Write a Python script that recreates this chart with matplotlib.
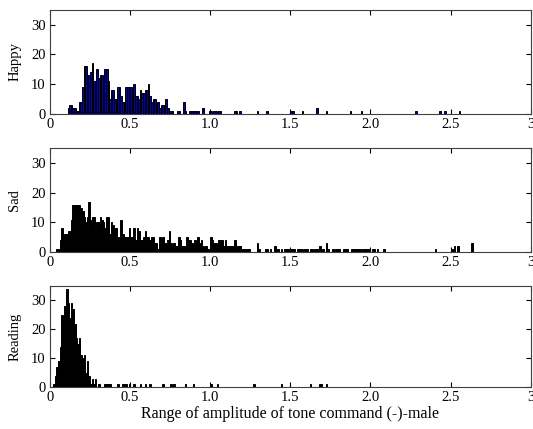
import matplotlib
matplotlib.use("Agg")
import matplotlib.pyplot as plt
import numpy as np

plt.rcParams["font.family"] = ["Liberation Serif", "DejaVu Serif"]

BIN = 0.01

# Happy: dense counts from 0.11 (bin width 0.01), then sparse tail
happy_start = 0.11
happy_dense = [2, 3, 3, 2, 2, 1, 1, 4, 4, 9,
               16, 16, 13, 13, 14, 17, 11, 11, 15, 12,
               13, 13, 9, 15, 15, 11, 5, 8, 8, 5,
               5, 9, 9, 6, 4, 4, 9, 9, 9, 9,
               4, 10, 6, 6, 5, 8, 7, 7, 8, 8,
               10, 6, 4, 5, 5, 4, 4, 2, 3, 3,
               3, 5, 2, 0, 1, 1, 0, 0, 1, 1,
               0, 0, 4, 1, 0, 0, 1, 1]
happy_tail_x = [0.89, 0.90, 0.91, 0.92, 0.95, 0.99, 1.00, 1.02, 1.03, 1.05,
                1.06, 1.15, 1.16, 1.18, 1.29, 1.35, 1.50, 1.51, 1.57, 1.66,
                1.72, 1.87, 1.94, 2.28, 2.43, 2.46, 2.55]
happy_tail_n = [1, 1, 1, 1, 2, 1, 1, 1, 1, 1,
                1, 1, 1, 1, 1, 1, 1, 1, 1, 2,
                1, 1, 1, 1, 1, 1, 1]

# Sad
sad_start = 0.04
sad_dense = [1, 1, 4, 8, 4, 6, 6, 7, 7, 11,
             16, 16, 16, 16, 16, 15, 14, 12, 10, 12,
             17, 11, 12, 12, 7, 10, 10, 12, 11, 10,
             8, 12, 12, 6, 10, 9, 8, 8, 5, 4,
             11, 6, 5, 5, 5, 8, 5, 5, 8, 4,
             8, 7, 4, 4, 5, 7, 5, 5, 4, 5,
             5, 3, 3, 1, 5, 3, 5, 3, 3, 4,
             7, 3, 1, 3, 2, 2, 5, 4, 2, 2,
             1, 5, 4, 4, 3, 2, 4, 3, 5, 3,
             4, 2, 1, 2, 1, 1, 5, 4, 3, 3,
             2, 4, 4, 4, 2, 4, 2, 2, 2, 2,
             2, 4, 2, 2, 2, 1, 1, 1, 1, 1,
             1]
sad_tail_x = [1.29, 1.30, 1.34, 1.35, 1.37, 1.40, 1.41, 1.42, 1.44, 1.46,
              1.47, 1.48, 1.50, 1.51, 1.52, 1.54, 1.55, 1.56, 1.58, 1.59,
              1.60, 1.62, 1.63, 1.65, 1.66, 1.67, 1.68, 1.70, 1.72, 1.73,
              1.76, 1.78, 1.79, 1.80, 1.83, 1.84, 1.85, 1.88, 1.89, 1.90,
              1.91, 1.92, 1.93, 1.95, 1.96, 1.97, 1.98, 2.01, 2.02, 2.04,
              2.08, 2.40, 2.51, 2.52, 2.54, 2.63]
sad_tail_n = [3, 1, 1, 1, 1, 2, 1, 1, 1, 1,
              1, 1, 1, 1, 1, 1, 1, 1, 1, 1,
              1, 1, 1, 1, 1, 1, 2, 1, 3, 1,
              1, 1, 1, 1, 1, 1, 1, 1, 1, 1,
              1, 1, 1, 1, 1, 1, 1, 1, 1, 1,
              1, 1, 1, 2, 2, 3]

# Reading
reading_start = 0.02
reading_dense = [1, 4, 7, 9, 14, 25, 24, 28, 34, 29,
                 24, 29, 27, 22, 17, 15, 17, 11, 10, 11,
                 5, 9, 4, 1, 3, 1, 3]
reading_tail_x = [0.30, 0.34, 0.35, 0.36, 0.37, 0.42, 0.45, 0.46, 0.47, 0.49,
                  0.52, 0.56, 0.59, 0.62, 0.70, 0.75, 0.77, 0.84, 0.89, 1.00,
                  1.04, 1.27, 1.44, 1.62, 1.68, 1.69, 1.72]
reading_tail_n = [1, 1, 1, 1, 1, 1, 1, 1, 1, 1,
                  1, 1, 1, 1, 1, 1, 1, 1, 1, 1,
                  1, 1, 1, 1, 1, 1, 1]

panels = [
    ("Happy", happy_start, happy_dense, happy_tail_x, happy_tail_n, "#0000b4"),
    ("Sad", sad_start, sad_dense, sad_tail_x, sad_tail_n, "black"),
    ("Reading", reading_start, reading_dense, reading_tail_x, reading_tail_n, "black"),
]

xticks = [0, 0.5, 1.0, 1.5, 2.0, 2.5, 3]
xticklabels = ["0", "0.5", "1.0", "1.5", "2.0", "2.5", "3"]
yticks = [0, 10, 20, 30]

fig = plt.figure(figsize=(5.33, 4.29), dpi=100)
# [left, bottom, width, height] for each panel
boxes = [
    [0.0938, 0.7343, 0.9019, 0.2431],
    [0.0938, 0.4119, 0.9019, 0.2431],
    [0.0938, 0.0972, 0.9019, 0.2361],
]

for (name, start, dense, tx, tn, face), box in zip(panels, boxes):
    ax = fig.add_axes(box)
    xs = np.round(start + BIN * np.arange(len(dense)), 2)
    x_all = np.concatenate([xs, tx])
    n_all = np.concatenate([dense, tn])
    ax.bar(x_all, n_all, width=BIN, align="edge", color=face,
           edgecolor="black", linewidth=0.7)
    ax.set_xlim(0, 3)
    ax.set_ylim(0, 35)
    ax.set_xticks(xticks)
    ax.set_xticklabels(xticklabels)
    ax.set_yticks(yticks)
    ax.tick_params(direction="in", top=True, right=True, length=3.5,
                   width=0.8, labelsize=10.5, pad=3)
    ax.set_ylabel(name, fontsize=10.5, labelpad=7)
    for sp in ax.spines.values():
        sp.set_color("#404040")
        sp.set_linewidth(0.8)

ax.set_xlabel("Range of amplitude of tone command (-)-male", fontsize=11.5,
              labelpad=1)

fig.savefig("out.png", dpi=100)
